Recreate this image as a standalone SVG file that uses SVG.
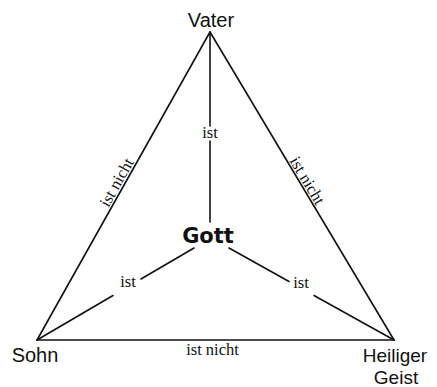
<svg xmlns="http://www.w3.org/2000/svg" width="437" height="387" viewBox="0 0 437 387">
<style>
.ln{stroke:#111;stroke-width:1.6;fill:none;stroke-linecap:round}
.nm{font-family:"Liberation Sans",Arial,sans-serif;font-size:20px;fill:#111;text-anchor:middle}
.nm2{font-family:"Liberation Sans",Arial,sans-serif;font-size:19px;fill:#111;text-anchor:middle}
.lb{font-family:"Liberation Serif","Times New Roman",serif;font-size:16.5px;fill:#111;text-anchor:middle}
.god{font-family:"DejaVu Sans",sans-serif;font-weight:bold;font-size:21px;fill:#111;text-anchor:middle}
</style>
<rect width="437" height="387" fill="#fff"/>
<g id="connectors">
<line class="ln" x1="210" y1="32" x2="37" y2="340"/>
<line class="ln" x1="210" y1="32" x2="394" y2="340"/>
<line class="ln" x1="37" y1="340" x2="394" y2="340"/>
<line class="ln" x1="210" y1="32" x2="210" y2="126"/>
<line class="ln" x1="210" y1="141" x2="210" y2="222"/>
<line class="ln" x1="194" y1="248" x2="141" y2="279"/>
<line class="ln" x1="113" y1="295.5" x2="37" y2="340"/>
<line class="ln" x1="229" y1="248" x2="289" y2="281.5"/>
<line class="ln" x1="314" y1="295.5" x2="394" y2="340"/>
<text class="lb" x="121.3" y="185" transform="rotate(-60.7 121.3 185)">ist nicht</text>
<text class="lb" x="302.7" y="183.5" transform="rotate(59.1 302.7 183.5)">ist nicht</text>
<text class="lb" x="212.5" y="355">ist nicht</text>
<text class="lb" x="210" y="138">ist</text>
<text class="lb" x="128" y="287">ist</text>
<text class="lb" x="301" y="288">ist</text>
</g>
<g id="vater"><text class="nm" x="211" y="27">Vater</text></g>
<g id="sohn"><text class="nm" x="35" y="362">Sohn</text></g>
<g id="geist"><text class="nm2" x="395" y="362">Heiliger</text><text class="nm2" x="396" y="384">Geist</text></g>
<g id="gott"><text class="god" x="208" y="243">Gott</text></g>
</svg>
